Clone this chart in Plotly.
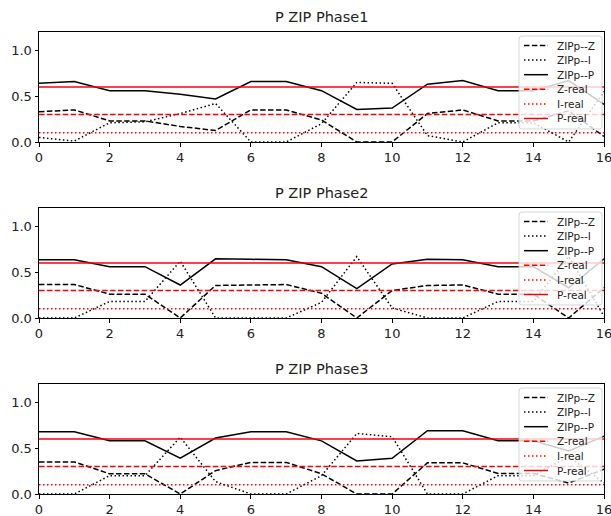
import plotly.graph_objects as go

# Time steps shared by every panel
steps = list(range(17))
tick_vals = [0, 2, 4, 6, 8, 10, 12, 14, 16]
y_ticks = [0.0, 0.5, 1.0]

# Reference (real) ZIP coefficients
Z_REAL = 0.3
I_REAL = 0.1
P_REAL = 0.6

# Estimated ZIP coefficients per phase
phase1_z = [0.33, 0.35, 0.23, 0.23, 0.17, 0.125, 0.35, 0.35, 0.24, 0.0, 0.0, 0.31, 0.35, 0.23, 0.23, 0.34, 0.06]
phase1_i = [0.05, 0.01, 0.21, 0.22, 0.31, 0.42, 0.0, 0.0, 0.2, 0.65, 0.64, 0.07, 0.0, 0.21, 0.21, 0.0, 0.55]
phase1_p = [0.64, 0.66, 0.56, 0.56, 0.52, 0.47, 0.66, 0.66, 0.56, 0.355, 0.37, 0.63, 0.67, 0.56, 0.56, 0.67, 0.41]

phase2_z = [0.365, 0.365, 0.26, 0.26, 0.0, 0.355, 0.36, 0.365, 0.27, 0.0, 0.3, 0.355, 0.36, 0.26, 0.26, 0.0, 0.33]
phase2_i = [0.0, 0.0, 0.18, 0.18, 0.62, 0.0, 0.0, 0.0, 0.17, 0.67, 0.11, 0.0, 0.0, 0.18, 0.18, 0.67, 0.02]
phase2_p = [0.635, 0.635, 0.56, 0.56, 0.36, 0.645, 0.64, 0.635, 0.56, 0.32, 0.59, 0.64, 0.635, 0.56, 0.56, 0.33, 0.645]

phase3_z = [0.35, 0.35, 0.22, 0.22, 0.0, 0.255, 0.345, 0.345, 0.22, 0.0, 0.0, 0.34, 0.34, 0.225, 0.225, 0.12, 0.27]
phase3_i = [0.0, 0.0, 0.2, 0.2, 0.62, 0.135, 0.0, 0.0, 0.2, 0.66, 0.625, 0.0, 0.0, 0.2, 0.2, 0.41, 0.12]
phase3_p = [0.68, 0.68, 0.58, 0.58, 0.39, 0.61, 0.68, 0.68, 0.58, 0.36, 0.39, 0.69, 0.69, 0.58, 0.58, 0.47, 0.63]

phases = [
    ("P ZIP Phase1", phase1_z, phase1_i, phase1_p),
    ("P ZIP Phase2", phase2_z, phase2_i, phase2_p),
    ("P ZIP Phase3", phase3_z, phase3_i, phase3_p),
]

W, H = 611, 516
X_LEFT, X_RIGHT = 39, 604
# (top, bottom) pixel rows of each panel's frame
panel_rows = [(32, 142), (208, 318), (384, 494)]

DASH = "5.5px,2.4px"
DOT = "1.5px,2.5px"
FONT = "DejaVu Sans"
TEXT = "#222222"

# Legend box geometry (pixels, relative to panel frame)
LEG_LEFT, LEG_RIGHT = 519, 602
LEG_TOP_OFF, LEG_BOTTOM_OFF = 4, 97
LEG_FIRST_OFF, LEG_STEP = 13.5, 14.6
LEG_LINE_X0, LEG_LINE_X1, LEG_TEXT_X = 524, 548, 555


def px_x(v):
    return v / W


def px_y(v):
    return 1 - v / H


def rounded_rect(x0, y0, x1, y1, r):
    # SVG path in paper coords for a frame with rounded corners
    rx, ry = r / W, r / H
    return (
        f"M {x0 + rx},{y1} L {x1 - rx},{y1} Q {x1},{y1} {x1},{y1 - ry} "
        f"L {x1},{y0 + ry} Q {x1},{y0} {x1 - rx},{y0} "
        f"L {x0 + rx},{y0} Q {x0},{y0} {x0},{y0 + ry} "
        f"L {x0},{y1 - ry} Q {x0},{y1} {x0 + rx},{y1} Z"
    )


fig = go.Figure()
shapes = []
annotations = []
layout = dict(
    width=W, height=H,
    margin=dict(l=0, r=0, t=0, b=0, autoexpand=False),
    paper_bgcolor="white", plot_bgcolor="white",
    font=dict(family=FONT, color=TEXT),
    showlegend=False,
)

for k, (title, z, i_, p) in enumerate(phases):
    n = k + 1
    xa = "x" if n == 1 else f"x{n}"
    ya = "y" if n == 1 else f"y{n}"
    top, bottom = panel_rows[k]

    series = [
        ("ZIPp--Z", z, "black", DASH),
        ("ZIPp--I", i_, "black", DOT),
        ("ZIPp--P", p, "black", "solid"),
        ("Z-real", [Z_REAL] * len(steps), "red", DASH),
        ("I-real", [I_REAL] * len(steps), "red", DOT),
        ("P-real", [P_REAL] * len(steps), "red", "solid"),
    ]
    for name, vals, color, dash in series:
        fig.add_trace(go.Scatter(
            x=steps, y=vals, mode="lines", name=name,
            line=dict(color=color, width=1.5, dash=dash),
            xaxis=xa, yaxis=ya,
        ))

    axis_common = dict(
        showgrid=False, zeroline=False, showline=True, linecolor="black",
        linewidth=1, mirror=True, ticks="outside", ticklen=3.5,
        tickwidth=1, tickcolor="black", ticklabeloverflow="allow",
        automargin=False,
        tickfont=dict(family=FONT, size=13, color=TEXT),
    )
    layout["xaxis" if n == 1 else f"xaxis{n}"] = dict(
        domain=[px_x(X_LEFT), px_x(X_RIGHT)], range=[0, 16], anchor=ya,
        tickvals=tick_vals, ticktext=[str(v) for v in tick_vals], **axis_common,
    )
    layout["yaxis" if n == 1 else f"yaxis{n}"] = dict(
        domain=[px_y(bottom), px_y(top)], range=[0, 1.2], anchor=xa,
        tickvals=y_ticks, ticktext=[f"{v:.1f}" for v in y_ticks], **axis_common,
    )

    annotations.append(dict(
        text=title, x=px_x((X_LEFT + X_RIGHT) / 2), y=px_y(top - 5),
        xref="paper", yref="paper", xanchor="center", yanchor="bottom",
        showarrow=False, font=dict(family=FONT, size=14.5, color=TEXT),
    ))

    # Legend: translucent frame with a line sample and label per series
    shapes.append(dict(
        type="path", xref="paper", yref="paper", layer="above",
        path=rounded_rect(px_x(LEG_LEFT), px_y(top + LEG_BOTTOM_OFF),
                          px_x(LEG_RIGHT), px_y(top + LEG_TOP_OFF), 3),
        fillcolor="rgba(255,255,255,0.8)",
        line=dict(color="rgba(204,204,204,0.8)", width=1),
    ))
    for j, (name, _, color, dash) in enumerate(series):
        yy = px_y(top + LEG_FIRST_OFF + LEG_STEP * j)
        shapes.append(dict(
            type="line", xref="paper", yref="paper", layer="above",
            x0=px_x(LEG_LINE_X0), x1=px_x(LEG_LINE_X1), y0=yy, y1=yy,
            line=dict(color=color, width=1.5, dash=dash),
        ))
        annotations.append(dict(
            text=name, x=px_x(LEG_TEXT_X), y=yy, xref="paper", yref="paper",
            xanchor="left", yanchor="middle", showarrow=False,
            font=dict(family=FONT, size=10.5, color=TEXT),
        ))

layout["shapes"] = shapes
layout["annotations"] = annotations
fig.update_layout(**layout)
fig.write_html("out.html")
